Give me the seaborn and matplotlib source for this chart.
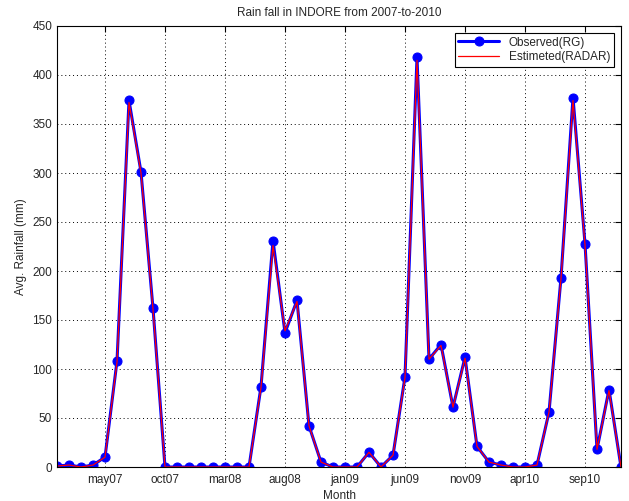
import numpy as np
import pandas as pd
import matplotlib
matplotlib.use("Agg")
import matplotlib.pyplot as plt
import seaborn as sns

months = list(range(1, 49))
observed = [1, 2, 0, 2, 10, 108, 374, 301, 162, 0, 0, 0,
            0, 0, 0, 0, 0, 82, 231, 137, 170, 42, 5, 0,
            0, 0, 15, 0, 12, 92, 418, 110, 125, 61, 112, 21,
            5, 2, 0, 0, 2, 56, 193, 377, 228, 18, 79, 0]
estimated = [1, 2, 0, 2, 10, 107, 372, 300, 161, 0, 0, 0,
             0, 0, 0, 0, 0, 81, 226, 139, 169, 42, 5, 0,
             0, 0, 15, 0, 12, 91, 415, 110, 124, 61, 111, 21,
             5, 2, 0, 0, 2, 56, 192, 374, 227, 18, 78, 0]
tick_pos = [5, 10, 15, 20, 25, 30, 35, 40, 45]
tick_labels = ["may07", "oct07", "mar08", "aug08", "jan09", "jun09", "nov09", "apr10", "sep10"]

df = pd.DataFrame({"Month": months, "Observed(RG)": observed, "Estimeted(RADAR)": estimated})

sns.set_style("white")
plt.rcParams["font.family"] = ["Liberation Sans", "DejaVu Sans"]
plt.rcParams["font.size"] = 8

fig = plt.figure(figsize=(6.29, 5.01), dpi=100)
ax = fig.add_axes([57/629, 34/501, 564/629, 441/501])

sns.lineplot(data=df, x="Month", y="Observed(RG)", ax=ax, color="#0000ff", linewidth=2.2,
             marker="o", markersize=6.5, markeredgecolor="#0000ff", label="Observed(RG)")
sns.lineplot(data=df, x="Month", y="Estimeted(RADAR)", ax=ax, color="#ff0000", linewidth=0.9,
             label="Estimeted(RADAR)")

ax.set_xlim(1, 48)
ax.set_ylim(0, 450)
ax.set_yticks(range(0, 451, 50))
ax.set_xticks(tick_pos)
ax.set_xticklabels(tick_labels)
ax.grid(True, color="black", linestyle=(0, (1, 3)), linewidth=0.7)
ax.tick_params(direction="in", length=4, top=True, right=True, labelsize=8.5, color="black")
ax.tick_params(axis="x", pad=5)
for s in ax.spines.values():
    s.set_color("black")
    s.set_linewidth(0.8)
ax.set_xlabel("Month", fontsize=8.5, labelpad=3)
ax.set_ylabel("Avg. Rainfall (mm)", fontsize=8.5)
ax.set_title("Rain fall in INDORE from 2007-to-2010", fontsize=8.5, pad=7)

leg = ax.legend(loc="upper right", fontsize=8.5, frameon=True, fancybox=False,
                edgecolor="black", framealpha=1, borderaxespad=0.6, handlelength=3.5,
                labelspacing=0.2, borderpad=0.3)
leg.get_frame().set_linewidth(0.8)

fig.savefig("out.png", dpi=100, facecolor="white")
